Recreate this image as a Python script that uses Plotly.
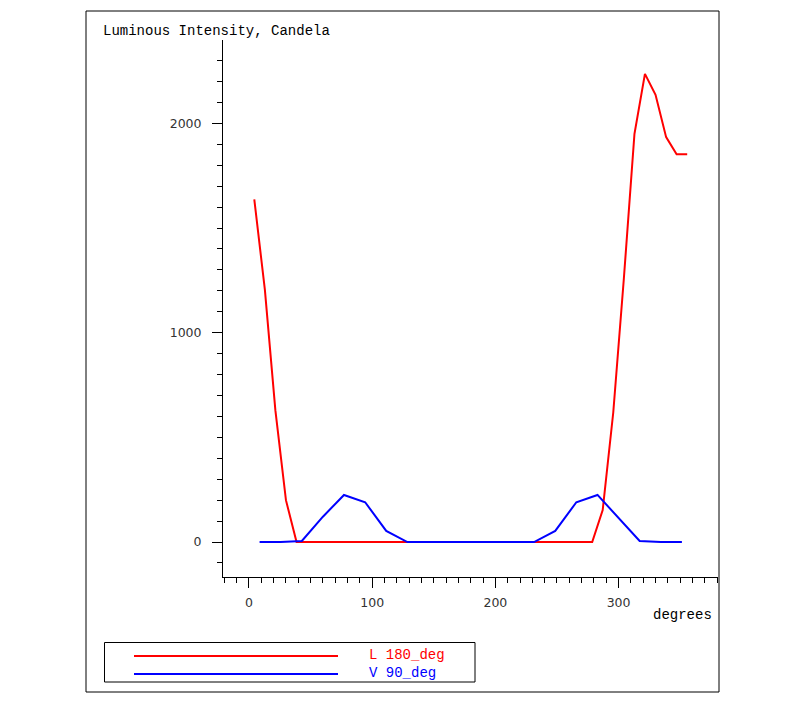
import plotly.graph_objects as go

# ---- data ----
red_deg = [4.3, 12.9, 21.4, 30.0, 38.6, 47.1, 55.7, 64.3, 72.9, 81.4, 90.0, 98.6,
           107.1, 115.7, 124.3, 132.9, 141.4, 150.0, 158.6, 167.1, 175.7, 184.3,
           192.9, 201.4, 210.0, 218.6, 227.1, 235.7, 244.3, 252.9, 261.4, 270.0,
           278.6, 287.1, 295.7, 304.3, 312.9, 321.4, 330.0, 338.6, 347.1, 355.7]
red_val = [1637, 1204, 630, 200,
           0, 0, 0, 0, 0, 0, 0, 0, 0, 0, 0, 0, 0, 0, 0, 0, 0, 0, 0, 0, 0, 0, 0, 0,
           0, 0, 0, 0,
           0, 153, 620, 1260, 1950, 2236, 2136, 1934, 1852, 1852]
blue_deg = [8.6, 25.7, 42.9, 60.0, 77.1, 94.3, 111.4, 128.6, 145.7, 162.9, 180.0,
            197.1, 214.3, 231.4, 248.6, 265.7, 282.9, 300.0, 317.1, 334.3, 351.4]
blue_val = [0, 0, 5, 121, 225, 190, 53, 0, 0, 0, 0,
            0, 0, 0, 53, 190, 225, 115, 5, 0, 0]
red_name = "L 180_deg"
blue_name = "V 90_deg"
y_title = "Luminous Intensity, Candela"
x_title = "degrees"

# ---- layout geometry (pixels) ----
W, H = 791, 704
L, R, T, B = 223, 73, 40, 127
PW, PH = W - L - R, H - T - B


def px(x):
    return (x - L) / PW


def py(y):
    return (H - B - y) / PH


RED = "#ff0000"
BLUE = "#0000ff"
MONO = "Liberation Mono, Courier New, monospace"
SANS = "DejaVu Sans, Verdana, sans-serif"

fig = go.Figure()
fig.add_trace(go.Scatter(x=red_deg, y=red_val, mode="lines", name=red_name,
                         line=dict(color=RED, width=2), showlegend=False))
fig.add_trace(go.Scatter(x=blue_deg, y=blue_val, mode="lines", name=blue_name,
                         line=dict(color=BLUE, width=2), showlegend=False))

fig.update_layout(
    width=W, height=H,
    margin=dict(l=L, r=R, t=T, b=B, pad=0),
    paper_bgcolor="white", plot_bgcolor="white",
    showlegend=False,
    xaxis=dict(range=[-21.1, 380.7], showgrid=False, zeroline=False,
               showline=True, linecolor="black", linewidth=1,
               ticks="outside", ticklen=10, tickcolor="black", tickwidth=1,
               tick0=0, dtick=100, ticklabelstandoff=4,
               tickfont=dict(family=SANS, size=12.5, color="#333333"),
               minor=dict(ticks="outside", ticklen=5, tick0=0, dtick=10,
                          tickcolor="black", showgrid=False),
               automargin=False),
    yaxis=dict(range=[-167, 2398], showgrid=False, zeroline=False,
               showline=True, linecolor="black", linewidth=1,
               ticks="outside", ticklen=10, tickcolor="black", tickwidth=1,
               tick0=0, dtick=1000, ticklabelstandoff=8,
               tickfont=dict(family=SANS, size=12.5, color="#333333"),
               minor=dict(ticks="outside", ticklen=5, tick0=0, dtick=100,
                          tickcolor="black", showgrid=False),
               automargin=False),
)

shapes = [
    # outer frame
    dict(type="rect", xref="paper", yref="paper",
         x0=px(86), x1=px(719), y0=py(692), y1=py(11),
         line=dict(color="black", width=1)),
    # legend box
    dict(type="rect", xref="paper", yref="paper",
         x0=px(104.5), x1=px(475), y0=py(682), y1=py(642.5),
         line=dict(color="black", width=1)),
    dict(type="line", xref="paper", yref="paper",
         x0=px(134), x1=px(338), y0=py(656), y1=py(656),
         line=dict(color=RED, width=2)),
    dict(type="line", xref="paper", yref="paper",
         x0=px(134), x1=px(338), y0=py(674), y1=py(674),
         line=dict(color=BLUE, width=2)),
]
fig.update_layout(shapes=shapes)

annotations = [
    dict(text=y_title, xref="paper", yref="paper", x=px(101), y=py(31),
         xanchor="left", yanchor="middle", showarrow=False,
         font=dict(family=MONO, size=14, color="black")),
    dict(text=x_title, xref="paper", yref="paper", x=px(651), y=py(615),
         xanchor="left", yanchor="middle", showarrow=False,
         font=dict(family=MONO, size=14, color="black")),
    dict(text=red_name, xref="paper", yref="paper", x=px(367), y=py(655),
         xanchor="left", yanchor="middle", showarrow=False,
         font=dict(family=MONO, size=14, color=RED)),
    dict(text=blue_name, xref="paper", yref="paper", x=px(367), y=py(673),
         xanchor="left", yanchor="middle", showarrow=False,
         font=dict(family=MONO, size=14, color=BLUE)),
]
fig.update_layout(annotations=annotations)

fig.write_html("out.html")
